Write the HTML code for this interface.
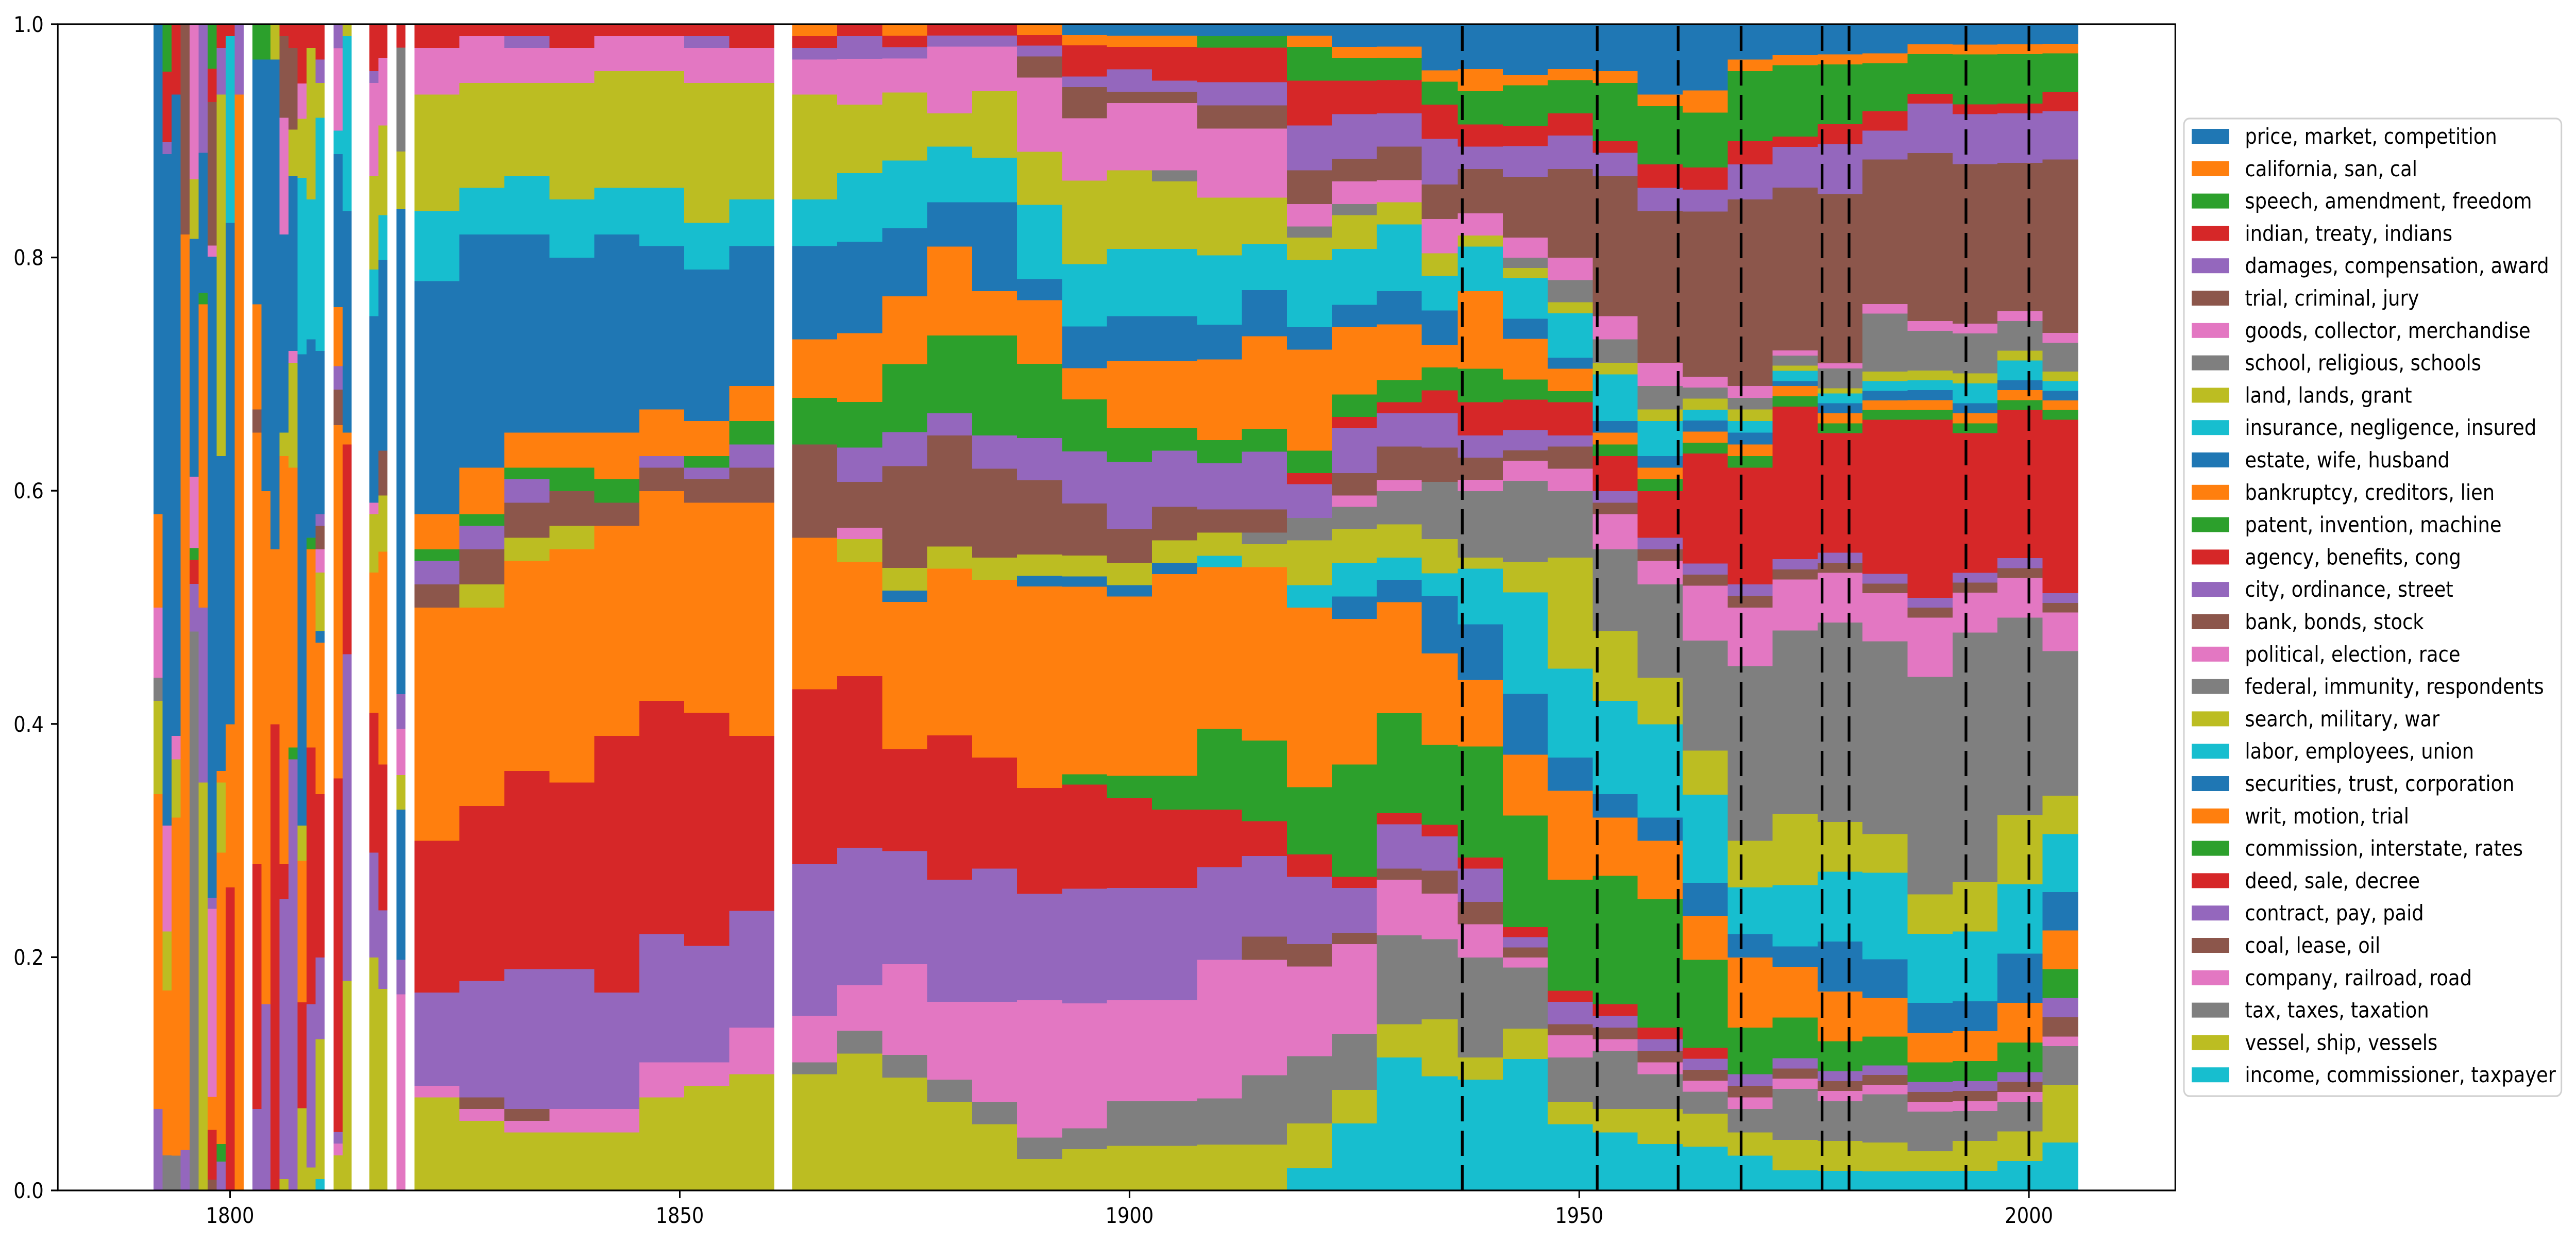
<!DOCTYPE html>
<html><head><meta charset="utf-8"><title>Topic shares by year</title>
<style>
html,body{margin:0;padding:0;background:#fff;width:100%;height:100%;overflow:hidden;}
svg{display:block;font-family:"DejaVu Sans","Liberation Sans",sans-serif;width:100vw;height:100vh;}
</style></head>
<body>
<svg id="chart" viewBox="0 0 5657 2412" preserveAspectRatio="none" xmlns="http://www.w3.org/2000/svg">
<rect x="0" y="0" width="5657" height="2412" fill="#fff"/>
<g id="bars" shape-rendering="crispEdges"></g>
<g id="vlines"></g>
<g id="axes"></g>
<g id="legend"></g>
</svg>
<script>
const binStart = [1792,1793,1794,1795,1796,1797,1798,1799,1800,1801,1803,1804,1805,1806,1807,1808,1809,1810,1812,1813,1816,1817,1819,1821,1826,1831,1836,1841,1846,1851,1856,1863,1868,1873,1878,1883,1888,1893,1898,1903,1908,1913,1918,1923,1928,1933,1937,1942,1947,1952,1957,1962,1967,1972,1977,1982,1987,1992,1997,2002];
const binEnd = [1792,1793,1794,1795,1796,1797,1798,1799,1800,1801,1803,1804,1805,1806,1807,1808,1809,1810,1812,1813,1816,1817,1819,1825,1830,1835,1840,1845,1850,1855,1860,1867,1872,1877,1882,1887,1892,1897,1902,1907,1912,1917,1922,1927,1932,1936,1941,1946,1951,1956,1961,1966,1971,1976,1981,1986,1991,1996,2001,2005];

const topicLabels = ["price, market, competition","california, san, cal","speech, amendment, freedom","indian, treaty, indians","damages, compensation, award","trial, criminal, jury","goods, collector, merchandise","school, religious, schools","land, lands, grant","insurance, negligence, insured","estate, wife, husband","bankruptcy, creditors, lien","patent, invention, machine","agency, benefits, cong","city, ordinance, street","bank, bonds, stock","political, election, race","federal, immunity, respondents","search, military, war","labor, employees, union","securities, trust, corporation","writ, motion, trial","commission, interstate, rates","deed, sale, decree","contract, pay, paid","coal, lease, oil","company, railroad, road","tax, taxes, taxation","vessel, ship, vessels","income, commissioner, taxpayer"];

const dividerYears = [1937,1952,1961,1968,1977,1980,1993,2000];
const xTicks = [1800,1850,1900,1950,2000];
const yTicks = [0,0.2,0.4,0.6,0.8,1.0];

const price = [0,0,0,0,0,0,0,0,0,0,0,0,0,0,0,0,0,0,0,0,0,0,0, 0,0,0,0,0,0,0,0, 0,0,0,0,0,0,.01,.01,.01,.01,.01,.01,.02,.02,.04, .04,.05,.04,.04,.06,.06,.03,.03,.03,.03,.02,.02,.02,.02];
const california = [0,0,0,0,0,0,0,0,0,0,0,0,0,0,0,0,0,0,0,0,0,0,0, 0,0,0,0,0,0,0,0, .01,0,.01,0,0,.01,.01,.01,.01,0,0,.01,.01,.01,.01, .02,.01,.01,.01,.01,.02,.01,.01,.01,.01,.01,.01,.01,.01];
const speech = [0,.04,0,0,0,0,.04,0,0,0,.03,.03,0,0,0,0,0,0,0,0,0,0,0, 0,0,0,0,0,0,0,0, 0,0,0,0,0,0,0,0,0,.01,.01,.03,.02,.02,.02, .03,.04,.03,.05,.05,.05,.06,.07,.06,.05,.04,.05,.05,.04];
const indian = [0,.06,.06,0,0,0,.03,.02,.01,0,0,0,0,.01,.02,.05,.02,.03,0,0,.04,.03,.02, .02,.01,.01,.02,.01,.01,.01,.02, .01,.01,.01,.01,.01,.01,.03,.02,.03,.03,.03,.04,.03,.03,.03, .02,.02,.02,.01,.02,.02,.02,.01,.02,.02,.01,.01,.01,.02];
const damages = [0,.01,0,0,0,.11,0,.04,0,.06,0,0,0,0,0,0,0,.02,.02,0,.01,0,0, 0,0,.01,0,0,0,.01,0, .01,.02,.01,.01,.01,.01,.01,.02,.01,.02,.02,.04,.04,.03,.04, .02,.03,.03,.02,.02,.02,.03,.04,.05,.03,.05,.05,.05,.05];
const trial = [0,0,0,.18,0,0,.13,0,0,0,0,0,0,.07,.07,0,0,0,0,0,0,0,0, 0,0,0,0,0,0,0,0, 0,0,0,0,0,.02,.03,.01,.01,.02,.02,.03,.02,.03,.03, .04,.06,.08,.12,.13,.15,.16,.16,.17,.15,.17,.16,.15,.18];
const goods = [0,0,0,0,.13,0,.01,0,0,0,0,0,0,.1,0,.03,0,0,.07,0,.08,.06,0, .04,.04,.03,.03,.03,.03,.03,.03, .03,.04,.03,.06,.04,.07,.06,.06,.06,.06,.06,.02,.02,.02,.03, .02,.02,.02,.02,.02,.01,.01,.005,.005,.01,.01,.01,.01,.01];
const school = [0,0,0,0,0,0,0,0,0,0,0,0,0,0,0,0,0,0,0,0,0,0,.09, 0,0,0,0,0,0,0,0, 0,0,0,0,0,0,0,0,.01,0,0,.01,.01,0,0, 0,.01,.02,.02,.02,.01,.01,.01,.02,.06,.04,.04,.03,.03];
const land = [0,0,0,0,.05,0,0,.31,0,0,0,0,.03,0,.04,.05,.13,.03,0,.01,.08,.08,.05, .1,.09,.08,.1,.1,.1,.12,.1, .09,.06,.06,.03,.06,.05,.08,.07,.06,.05,.04,.02,.03,.02,.02, .01,.01,.01,.01,.01,.01,.01,.005,.005,.01,.01,.01,.01,.01];
const insurance = [0,0,0,0,0,0,0,0,.16,0,0,0,0,0,0,.15,.12,.2,.02,.15,.04,.04,0, .06,.04,.05,.05,.04,.05,.04,.04, .04,.06,.06,.05,.04,.07,.06,.06,.06,.06,.04,.06,.05,.06,.03, .04,.04,.04,.04,.03,.01,.01,.01,.01,.01,.01,.02,.02,.01];
const estate = [.42,.57,.55,0,.2,.12,.58,.27,.43,0,.21,.37,.42,.17,.15,.4,.17,.14,.13,.19,.16,.17,.42, .2,.2,.17,.15,.17,.14,.13,.12, .08,.08,.06,.04,.08,.02,.04,.04,.04,.03,.04,.02,.02,.03,.03, 0,.02,.01,.01,.01,.01,.01,.005,.01,.01,.01,.01,.01,.01];
const bankruptcy = [.08,0,0,0,0,0,0,.01,0,0,.09,0,0,0,0,0,0,0,.05,0,0,0,0, .03,.04,.03,.03,.04,.04,.03,.03, .05,.06,.06,.08,.04,.06,.03,.06,.06,.07,.08,.09,.06,.05,.02, .07,.04,.02,.01,.01,.01,.01,.01,.01,.01,.01,.01,.01,.01];
const patent = [0,0,0,0,0,.01,0,0,0,0,0,0,0,0,0,0,.01,0,0,0,0,0,0, .01,.01,.01,.02,.02,0,.01,.02, .04,.04,.06,.07,.09,.07,.05,.03,.02,.02,.02,.02,.02,.02,.02, .03,.02,.01,.01,.01,.01,.01,.01,.01,.01,.01,.01,.01,.01];
const agency = [0,0,0,0,0,0,0,0,0,0,0,0,0,0,0,0,0,0,0,0,0,0,0, 0,0,0,0,0,0,0,0, 0,0,0,0,0,0,0,0,0,0,0,.01,.01,.01,.02, .03,.03,.03,.03,.04,.1,.1,.15,.12,.16,.18,.14,.15,.18];
const city = [0,0,0,0,0,0,.01,0,0,0,0,0,0,0,0,0,0,.01,.02,0,0,0,.03, .02,.02,.02,0,0,.01,.01,.02, 0,.03,.03,.02,.03,.04,.05,.06,.05,.04,.05,.03,.04,.03,.03, .02,.02,.01,.01,.01,.01,.01,.01,.01,.01,.01,.01,.01,.01];
const bank = [0,0,0,0,0,0,0,0,0,0,.02,0,0,0,0,0,0,.02,.03,0,0,.04,0, .02,.03,.03,.03,.02,.02,.02,.03, .08,.04,.09,.1,.08,.07,.05,.03,.03,.02,.02,0,.02,.03,.03, .02,.01,.02,.01,.01,.01,.01,.01,.01,.01,.01,.01,.01,.01];
const political = [.06,.09,.02,0,.06,0,.17,0,0,0,0,0,0,0,.01,0,0,.02,0,0,.01,0,.04, 0,0,0,0,0,0,0,0, 0,.01,0,0,0,0,0,0,0,0,0,0,.01,.01,0, .01,.02,.02,.03,.02,.05,.05,.05,.05,.05,.06,.04,.04,.04];
const federal = [.02,0,0,0,0,0,0,0,0,0,0,0,0,0,0,0,0,0,0,0,0,0,0, 0,0,0,0,0,0,0,0, 0,0,0,0,0,0,0,0,0,0,.01,.02,.02,.03,.05, .06,.08,.06,.07,.08,.1,.15,.18,.2,.2,.22,.25,.2,.15];
const search = [.08,.05,.05,0,0,0,0,.06,0,0,0,0,0,.02,.09,.03,0,.05,0,0,.05,.05,.03, 0,.02,.02,.02,0,0,0,0, 0,.02,.02,.02,.02,.02,.02,.02,.02,.02,.02,.04,.03,.03,.03, .01,.03,.1,.06,.04,.04,.04,.07,.05,.04,.04,.05,.07,.04];
const labor = [0,0,0,0,0,0,0,0,0,0,0,0,0,0,0,0,0,0,0,0,0,0,0, 0,0,0,0,0,0,0,0, 0,0,0,0,0,0,0,0,0,.01,0,.02,.03,.02,.02, .05,.1,.08,.08,.08,.08,.04,.06,.07,.09,.07,.07,.07,.06];
const securities = [0,0,0,0,0,0,0,0,0,0,0,0,0,0,0,0,0,.01,0,0,0,0,.13, 0,0,0,0,0,0,0,0, 0,0,.01,0,0,.01,.01,.01,.01,0,0,0,.02,.02,.05, .05,.06,.03,.02,.02,.03,.02,.02,.05,.04,.03,.03,.05,.04];
const writ = [.27,.14,.29,.785,0,.26,.03,.25,.14,.94,.37,.44,.15,.35,.24,.12,.17,.13,.3,.01,.12,.19,0, .2,.17,.18,.2,.18,.18,.18,.2, .13,.1,.13,.15,.16,.19,.18,.16,.18,.14,.15,.16,.13,.1,.08, .06,.06,.08,.05,.05,.04,.06,.05,.05,.04,.03,.03,.04,.04];
const commission = [0,0,0,0,.01,0,0,.015,0,0,0,0,0,0,.01,0,0,0,0,0,0,0,0, 0,0,0,0,0,0,0,0, 0,0,0,0,0,0,.01,.02,.03,.07,.07,.06,.1,.09,.07, .1,.11,.1,.11,.11,.08,.04,.04,.03,.03,.02,.02,.03,.03];
const deed = [0,0,0,0,.02,0,.045,0,.26,0,.21,0,.4,.03,0,.09,.22,.14,.3,.18,.12,.13,0, .13,.15,.17,.16,.22,.2,.2,.15, .15,.15,.09,.13,.1,.1,.1,.08,.07,.05,.03,.02,.01,.01,.01, .01,.01,.01,.01,.01,.01,0,0,0,0,0,0,0,0];
const contract = [.07,0,0,.035,.04,.15,0,.025,0,0,.07,.16,0,.24,.37,0,.14,.07,.01,.28,.09,.07,.03, .08,.1,.12,.12,.1,.11,.1,.1, .13,.12,.1,.11,.12,.1,.11,.1,.1,.08,.07,.06,.04,.04,.03, .03,.01,.02,.01,.01,.01,.01,.01,.01,.01,.01,.01,.01,.02];
const coal = [0,0,0,0,0,0,.01,0,0,0,0,0,0,0,0,0,0,0,0,0,0,0,0, 0,.01,.01,0,0,0,0,0, 0,0,0,0,0,0,0,0,0,0,.02,.02,.01,.01,.02, .02,.01,.01,.01,.01,.01,.01,.01,.01,.01,.01,.01,.01,.02];
const company = [0,0,0,0,0,0,0,0,0,0,0,0,0,0,0,0,0,0,.01,0,0,0,.17, .01,.01,.01,.02,.02,.03,.02,.04, .04,.04,.08,.07,.09,.13,.12,.09,.09,.12,.1,.08,.08,.05,.04, .03,.01,.02,.01,.01,.01,.01,.01,.01,.01,.01,.01,.01,.01];
const tax = [0,.03,.03,0,.47,0,0,0,0,0,0,0,0,0,0,0,0,0,0,0,0,0,0, 0,0,0,0,0,0,0,0, .01,.02,.02,.02,.02,.02,.02,.04,.04,.04,.06,.06,.05,.08,.07, .09,.06,.04,.05,.03,.02,.02,.05,.04,.05,.04,.03,.03,.04];
const vessel = [0,0,0,0,0,.35,0,0,0,0,0,0,0,.01,0,.07,.02,.12,.03,.18,.2,.18,0, .08,.06,.05,.05,.05,.08,.09,.1, .1,.12,.1,.08,.06,.03,.04,.04,.04,.04,.04,.04,.03,.03,.05, .02,.03,.02,.02,.03,.03,.02,.03,.03,.03,.02,.03,.03,.06];
const income = [0,0,0,0,0,0,0,0,0,0,0,0,0,0,0,0,0,.01,0,0,0,0,0, 0,0,0,0,0,0,0,0, 0,0,0,0,0,0,0,0,0,0,0,.02,.06,.12,.1, .1,.13,.06,.05,.04,.04,.03,.02,.02,.02,.02,.02,.03,.05];

const series = [price,california,speech,indian,damages,trial,goods,school,land,insurance,estate,bankruptcy,patent,agency,city,bank,political,federal,search,labor,securities,writ,commission,deed,contract,coal,company,tax,vessel,income];
const palette = ["#1f77b4","#ff7f0e","#2ca02c","#d62728","#9467bd","#8c564b","#e377c2","#7f7f7f","#bcbd22","#17becf"];

const NS = "http://www.w3.org/2000/svg";
const PL = 127, PR = 4777, PT = 47, PB = 2310;
const X0 = 1780.85, X1 = 2016.27;
function xs(year){ return PL + (year - X0) / (X1 - X0) * (PR - PL); }
function ys(v){ return PB - v * (PB - PT); }
function mk(tag, attrs, parent){
  const el = document.createElementNS(NS, tag);
  for (const k in attrs) el.setAttribute(k, attrs[k]);
  parent.appendChild(el);
  return el;
}
function slug(s){ return s.replace(/,/g,'').replace(/\s+/g,'-'); }

const gBars = document.getElementById('bars');
for (let b = 0; b < binStart.length; b++) {
  let total = 0;
  for (let t = 0; t < series.length; t++) total += (series[t][b] || 0);
  if (total <= 0) continue;
  const xa = xs(binStart[b] - 0.5), xb = xs(binEnd[b] + 0.5);
  let acc = 0;
  for (let t = series.length - 1; t >= 0; t--) {
    const v = (series[t][b] || 0) / total;
    if (v <= 0) continue;
    const y1 = ys(acc), y2 = ys(acc + v);
    acc += v;
    const r = mk('rect', {x: xa.toFixed(2), y: y2.toFixed(2), width: (xb - xa).toFixed(2), height: (y1 - y2 + 0.6).toFixed(2), fill: palette[t % 10]}, gBars);
    
    
  }
}

const gV = document.getElementById('vlines');
dividerYears.forEach(yr => {
  const x = xs(yr);
  const l = mk('line', {x1: x, x2: x, y1: PB, y2: PT, stroke: '#000', 'stroke-width': 6, 'stroke-dasharray': '49 18'}, gV);
  
  
});

const gA = document.getElementById('axes');
const frame = mk('rect', {x: PL, y: PT, width: PR - PL, height: PB - PT, fill: 'none', stroke: '#000', 'stroke-width': 3.3}, gA);


xTicks.forEach(yr => {
  const x = xs(yr);
  const tk = mk('line', {x1: x, x2: x, y1: PB, y2: PB + 15, stroke: '#000', 'stroke-width': 3.3}, gA);
  
  
  const tx = mk('text', {x: x, y: 2373, 'text-anchor': 'middle', 'font-size': 41.7, fill: '#000'}, gA);
  tx.textContent = String(yr);
  
  
});
yTicks.forEach(v => {
  const y = ys(v);
  const tk = mk('line', {x1: PL - 15, x2: PL, y1: y, y2: y, stroke: '#000', 'stroke-width': 3.3}, gA);
  
  
  const tx = mk('text', {x: 96, y: y + 15, 'text-anchor': 'end', 'font-size': 41.7, fill: '#000'}, gA);
  tx.textContent = v.toFixed(1);
  
  
});

const gL = document.getElementById('legend');
const lbox = mk('rect', {x: 4796, y: 230, width: 829, height: 1897, rx: 12, ry: 12, fill: '#fff', 'fill-opacity': 0.8, stroke: '#d0d0d0', 'stroke-width': 3.3}, gL);


topicLabels.forEach((lab, i) => {
  const y = 250 + i * 62.8;
  const g = mk('g', {}, gL);
  
  
  const sw = mk('rect', {x: 4813, y: y, width: 82, height: 29, fill: palette[i % 10]}, g);
  
  
  const tx = mk('text', {x: 4930, y: y + 29, 'font-size': 41.7, fill: '#000'}, g);
  tx.textContent = lab;
  
  
});
</script>
</body></html>
